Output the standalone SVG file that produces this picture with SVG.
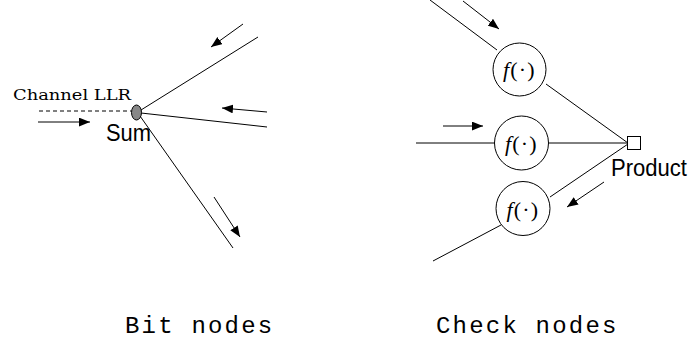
<svg xmlns="http://www.w3.org/2000/svg" width="691" height="345" viewBox="0 0 691 345">
<defs>
<style>
.ln{stroke:#000;stroke-width:1;fill:none}
.ar{stroke:#000;stroke-width:1;fill:none;marker-end:url(#ah)}
.circ{fill:#fff;stroke:#000;stroke-width:1}
.fx{font-family:"Liberation Serif","Times New Roman",serif;font-size:22px;letter-spacing:1.2px}
.sans{font-family:"Liberation Sans",Arial,sans-serif;font-size:23px}
.mono{font-family:"Liberation Mono","Courier New",monospace;font-size:24px;letter-spacing:2.2px}
</style>
<marker id="ah" viewBox="0 0 10 8" markerWidth="11" markerHeight="9" refX="10" refY="4" orient="auto" markerUnits="userSpaceOnUse">
<path d="M0,0 L10,4 L0,8 z" fill="#000"/>
</marker>
</defs>
<rect width="691" height="345" fill="#fff"/>
<g id="connectors">
<line class="ln" x1="39" y1="111" x2="131" y2="111" stroke-dasharray="4 3"/>
<line class="ln" x1="141" y1="110" x2="258" y2="37"/>
<line class="ln" x1="141" y1="113" x2="267" y2="127"/>
<line class="ln" x1="140" y1="116" x2="233" y2="248"/>
<line class="ar" x1="38" y1="122" x2="90" y2="122"/>
<line class="ar" x1="243" y1="24" x2="211" y2="47"/>
<line class="ar" x1="267" y1="112" x2="222" y2="108"/>
<line class="ar" x1="214" y1="197" x2="240" y2="237"/>
<line class="ln" x1="430" y1="0" x2="497" y2="50"/>
<line class="ln" x1="546" y1="84" x2="628" y2="143"/>
<line class="ln" x1="416" y1="143" x2="495" y2="143"/>
<line class="ln" x1="549" y1="143" x2="628" y2="143"/>
<line class="ln" x1="550" y1="197" x2="628" y2="144"/>
<line class="ln" x1="433" y1="261" x2="501" y2="225"/>
<line class="ar" x1="463" y1="1" x2="499" y2="29"/>
<line class="ar" x1="443" y1="126" x2="483" y2="126"/>
<line class="ar" x1="604" y1="182" x2="567" y2="207"/>
</g>
<g id="sum-node">
<ellipse cx="136.5" cy="112.5" rx="5" ry="7.5" fill="#888" stroke="#000" stroke-width="1"/>
<text class="sans" x="106" y="141" textLength="45" lengthAdjust="spacingAndGlyphs">Sum</text>
</g>
<g id="channel-llr">
<text x="13" y="100" font-family="'DejaVu Serif','Liberation Serif',serif" font-size="15" textLength="118" lengthAdjust="spacingAndGlyphs">Channel LLR</text>
</g>
<g id="f1">
<circle class="circ" cx="519.5" cy="69.5" r="26.5"/>
<text class="fx" x="503" y="77"><tspan font-style="italic">f</tspan>(·)</text>
</g>
<g id="f2">
<circle class="circ" cx="521.5" cy="143" r="27"/>
<text class="fx" x="505" y="151"><tspan font-style="italic">f</tspan>(·)</text>
</g>
<g id="f3">
<circle class="circ" cx="523" cy="208.5" r="27"/>
<text class="fx" x="506.5" y="216.5"><tspan font-style="italic">f</tspan>(·)</text>
</g>
<g id="product-node">
<rect x="627.5" y="136.5" width="13" height="13" fill="#fff" stroke="#000" stroke-width="1"/>
<text class="sans" x="611" y="176" textLength="76" lengthAdjust="spacingAndGlyphs">Product</text>
</g>
<g id="labels">
<text class="mono" x="125" y="333">Bit nodes</text>
<text class="mono" x="436" y="333">Check nodes</text>
</g>
</svg>
